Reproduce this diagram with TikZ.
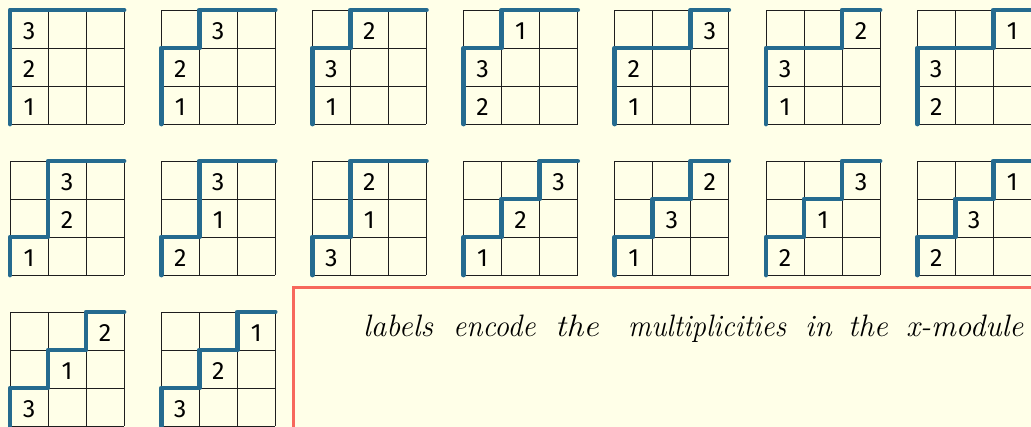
\documentclass[tikz,border=0pt]{standalone}
\usepackage{fontspec}
\setmainfont{Fira Sans}
\newfontfamily\handfont{Latin Modern Roman}
\definecolor{bgcream}{RGB}{255,255,232}
\definecolor{dyckblue}{RGB}{37,107,143}
\definecolor{boxred}{RGB}{247,104,92}
\definecolor{inkline}{RGB}{30,30,30}
\tikzset{
  gridline/.style={draw=inkline, line width=0.9pt},
  dyck/.style={draw=dyckblue, line width=4.8pt, line cap=round, line join=round},
  lab/.style={font=\fontsize{25}{27}\selectfont, text=black, inner sep=0pt},
  redbox/.style={draw=boxred, line width=3pt},
  word/.style={font=\handfont\itshape\fontsize{31}{33}\selectfont, anchor=base west, inner sep=0pt, text=black},
}
\newcommand\dgrid[9]{%
  \begin{scope}[shift={(#2,#3+114)}, x=38pt, y=38pt]
    \draw[gridline, step=38pt] (0,0) grid (3,3);
    \draw[dyck] (#4,0) -- (#4,1) -- (#5,1) -- (#5,2) -- (#6,2) -- (#6,3) -- (3,3);
    \node[lab] (#1a) at (#4+0.5,0.45) {#7};
    \node[lab] (#1b) at (#5+0.5,1.45) {#8};
    \node[lab] (#1c) at (#6+0.5,2.45) {#9};
  \end{scope}}
\begin{document}
\begin{tikzpicture}[x=1pt, y=-1pt]
  \path[use as bounding box, fill=bgcream] (0,0) rectangle (1031,427);
  \clip (0,0) rectangle (1031,427);
  % row 1
  \dgrid{p1}{10}{10}{0}{0}{0}{1}{2}{3}
  \dgrid{p2}{161.2}{10}{0}{0}{1}{1}{2}{3}
  \dgrid{p3}{312.4}{10}{0}{0}{1}{1}{3}{2}
  \dgrid{p4}{463.6}{10}{0}{0}{1}{2}{3}{1}
  \dgrid{p5}{614.8}{10}{0}{0}{2}{1}{2}{3}
  \dgrid{p6}{766}{10}{0}{0}{2}{1}{3}{2}
  \dgrid{p7}{917.2}{10}{0}{0}{2}{2}{3}{1}
  % row 2
  \dgrid{q1}{10}{161}{0}{1}{1}{1}{2}{3}
  \dgrid{q2}{161.2}{161}{0}{1}{1}{2}{1}{3}
  \dgrid{q3}{312.4}{161}{0}{1}{1}{3}{1}{2}
  \dgrid{q4}{463.6}{161}{0}{1}{2}{1}{2}{3}
  \dgrid{q5}{614.8}{161}{0}{1}{2}{1}{3}{2}
  \dgrid{q6}{766}{161}{0}{1}{2}{2}{1}{3}
  \dgrid{q7}{917.2}{161}{0}{1}{2}{2}{3}{1}
  % row 3
  \dgrid{s1}{10}{312}{0}{1}{2}{3}{1}{2}
  \dgrid{s2}{161.2}{312}{0}{1}{2}{3}{2}{1}
  % note box
  \draw[redbox] (293,288) rectangle (1045,445);
  \node[word] (w1) at (363,337) {labels};
  \node[word, xscale=0.95] (w2) at (453,337) {encode};
  \node[word, xscale=1.1] (w3) at (555,337) {the};
  \node[word, xscale=0.93] (w4) at (628,337) {multiplicities};
  \node[word] (w5) at (805,337) {in};
  \node[word] (w6) at (848,337) {the};
  \node[word] (w7) at (906,337) {x-module};
\end{tikzpicture}
\end{document}
